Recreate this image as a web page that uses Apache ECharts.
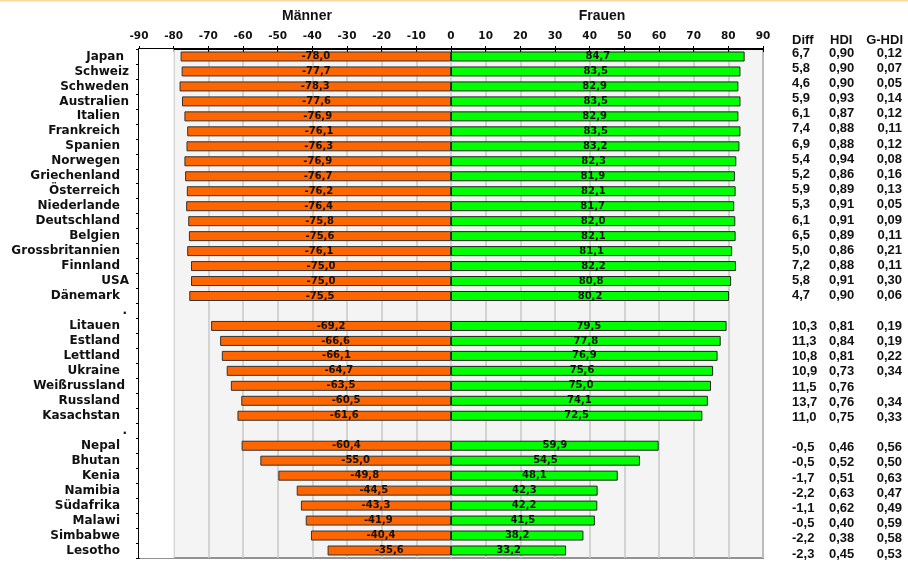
<!DOCTYPE html>
<html>
<head>
<meta charset="utf-8">
<script src="https://cdn.jsdelivr.net/npm/echarts@6/dist/echarts.min.js"></script>
<style>
  html, body { margin: 0; padding: 0; background: #fff; }
  #chart { width: 908px; height: 563px; }
</style>
</head>
<body>
<div id="chart"></div>
<script>
// Life expectancy (years) by sex, grouped by region; "." rows separate the groups
const countries = [
  'Japan', 'Schweiz', 'Schweden', 'Australien', 'Italien', 'Frankreich', 'Spanien',
  'Norwegen', 'Griechenland', 'Österreich', 'Niederlande', 'Deutschland', 'Belgien',
  'Grossbritannien', 'Finnland', 'USA', 'Dänemark',
  '.',
  'Litauen', 'Estland', 'Lettland', 'Ukraine', 'Weißrussland', 'Russland', 'Kasachstan',
  '.',
  'Nepal', 'Bhutan', 'Kenia', 'Namibia', 'Südafrika', 'Malawi', 'Simbabwe', 'Lesotho'
];

// Men are plotted to the left of zero
const lifeMen = [
  -78.0, -77.7, -78.3, -77.6, -76.9, -76.1, -76.3, -76.9, -76.7, -76.2, -76.4, -75.8, -75.6,
  -76.1, -75.0, -75.0, -75.5,
  null,
  -69.2, -66.6, -66.1, -64.7, -63.5, -60.5, -61.6,
  null,
  -60.4, -55.0, -49.8, -44.5, -43.3, -41.9, -40.4, -35.6
];

const lifeWomen = [
  84.7, 83.5, 82.9, 83.5, 82.9, 83.5, 83.2, 82.3, 81.9, 82.1, 81.7, 82.0, 82.1,
  81.1, 82.2, 80.8, 80.2,
  null,
  79.5, 77.8, 76.9, 75.6, 75.0, 74.1, 72.5,
  null,
  59.9, 54.5, 48.1, 42.3, 42.2, 41.5, 38.2, 33.2
];

// Side table: difference women - men, HDI and gender HDI
const diffValues = [
  6.7, 5.8, 4.6, 5.9, 6.1, 7.4, 6.9, 5.4, 5.2, 5.9, 5.3, 6.1, 6.5, 5.0, 7.2, 5.8, 4.7,
  null,
  10.3, 11.3, 10.8, 10.9, 11.5, 13.7, 11.0,
  null,
  -0.5, -0.5, -1.7, -2.2, -1.1, -0.5, -2.2, -2.3
];

const hdiValues = [
  0.90, 0.90, 0.90, 0.93, 0.87, 0.88, 0.88, 0.94, 0.86, 0.89, 0.91, 0.91, 0.89, 0.86, 0.88, 0.91, 0.90,
  null,
  0.81, 0.84, 0.81, 0.73, 0.76, 0.76, 0.75,
  null,
  0.46, 0.52, 0.51, 0.63, 0.62, 0.40, 0.38, 0.45
];

const gHdiValues = [
  0.12, 0.07, 0.05, 0.14, 0.12, 0.11, 0.12, 0.08, 0.16, 0.13, 0.05, 0.09, 0.11, 0.21, 0.11, 0.30, 0.06,
  null,
  0.19, 0.19, 0.22, 0.34, null, 0.34, 0.33,
  null,
  0.56, 0.50, 0.63, 0.47, 0.49, 0.59, 0.58, 0.53
];

const tableHeaders = ['Diff', 'HDI', 'G-HDI'];
const axisMin = -90;
const axisMax = 90;
const axisStep = 10;

// German number format with decimal comma
function fmt(v, digits) {
  if (v === null || v === undefined) return '';
  return v.toFixed(digits).replace('.', ',');
}

// Some category labels sit a little further right than the rest
const labelPad = { 'Japan': 5, 'Schweiz': 0, 'Schweden': 0, 'Australien': 0, 'USA': 0, 'Weißrussland': 4, '.': 2 };
const catFont = { fontFamily: 'DejaVu Sans', fontWeight: 'bold', fontSize: 12, color: '#111' };
const richPads = {};
[0, 2, 4, 5, 9].forEach(p => {
  richPads['p' + p] = Object.assign({ padding: [0, p, 0, 0] }, catFont);
});

const tableFont = { fontFamily: 'Liberation Sans, Arial', fontWeight: 'bold', fontSize: 13, color: '#111' };
const barLabelFont = { fontFamily: 'DejaVu Sans', fontWeight: 'bold', fontSize: 10, color: '#111' };

function tableAxis(values, digits, margin, align) {
  return {
    type: 'category', gridIndex: 1, position: 'right', inverse: true, data: countries,
    axisLine: { show: false, onZero: false }, axisTick: { show: false }, splitLine: { show: false },
    axisLabel: Object.assign({
      interval: 0, margin: margin, align: align,
      formatter: (v, i) => fmt(values[i], digits)
    }, tableFont)
  };
}

const chart = echarts.init(document.getElementById('chart'), null, { renderer: 'canvas' });

chart.setOption({
  backgroundColor: '#ffffff',
  animation: false,
  grid: [
    // plot frame: gray border on the right and bottom, black axis lines cover top and left
    { left: 139, right: 145, top: 49, bottom: 5, show: true, backgroundColor: '#f4f4f4', borderColor: '#929292', borderWidth: 2 },
    { left: 139, right: 145, top: 45.4, bottom: 1.4, show: false }
  ],
  xAxis: [
    {
      type: 'value', gridIndex: 0, position: 'top', min: axisMin, max: axisMax, interval: axisStep,
      axisLine: { show: true, onZero: false, lineStyle: { color: '#000', width: 2 } },
      axisTick: { show: true, length: 3, lineStyle: { color: '#000' } },
      axisLabel: { margin: 7, fontFamily: 'DejaVu Sans', fontWeight: 'bold', fontSize: 10.5, color: '#111' },
      splitLine: { show: true, lineStyle: { color: '#c8c8c8', width: 1.5 } }
    },
    {
      type: 'value', gridIndex: 0, position: 'top', min: axisMin, max: axisMax, interval: axisStep,
      axisLine: { show: false, onZero: false },
      axisTick: { show: true, inside: true, length: 3, lineStyle: { color: '#000' } },
      axisLabel: { show: false },
      splitLine: { show: false }
    },
    { type: 'value', gridIndex: 1, show: false, min: axisMin, max: axisMax }
  ],
  yAxis: [
    {
      type: 'category', gridIndex: 0, inverse: true, data: countries,
      axisLine: { show: true, onZero: false, lineStyle: { color: '#000', width: 2 } },
      axisTick: { show: true, length: 3, interval: 0, lineStyle: { color: '#000' } },
      axisLabel: Object.assign({
        interval: 0, margin: 10, rich: richPads,
        formatter: (v) => {
          const p = (v in labelPad) ? labelPad[v] : 9;
          return '{p' + p + '|' + v + '}';
        }
      }, catFont)
    },
    tableAxis(diffValues, 1, 29, 'left'),
    tableAxis(hdiValues, 2, 66, 'left'),
    tableAxis(gHdiValues, 2, 139, 'right')
  ],
  series: [
    {
      type: 'bar', name: 'Männer', xAxisIndex: 0, yAxisIndex: 0,
      data: lifeMen, barWidth: 10, barGap: '-100%',
      itemStyle: { color: '#ff6600', borderColor: '#333', borderWidth: 1 },
      label: Object.assign({ show: true, position: 'inside', formatter: p => fmt(p.value, 1) }, barLabelFont),
      markArea: {
        silent: true,
        itemStyle: { color: '#ffffff' },
        data: [[{ xAxis: axisMin }, { xAxis: -80 }]]
      }
    },
    {
      type: 'bar', name: 'Frauen', xAxisIndex: 0, yAxisIndex: 0,
      data: lifeWomen, barWidth: 10, barGap: '-100%',
      itemStyle: { color: '#00ff00', borderColor: '#222', borderWidth: 1 },
      label: Object.assign({ show: true, position: 'inside', formatter: p => fmt(p.value, 1) }, barLabelFont)
    }
  ],
  graphic: [
    { type: 'rect', left: 0, top: 0, shape: { width: 908, height: 1.5 }, style: { fill: '#fdd9a1' }, silent: true },
    { type: 'text', x: 307, y: 16, style: { text: 'Männer', textAlign: 'center', textVerticalAlign: 'middle', font: 'bold 14px "Liberation Sans", Arial', fill: '#111' } },
    { type: 'text', x: 602, y: 16, style: { text: 'Frauen', textAlign: 'center', textVerticalAlign: 'middle', font: 'bold 14px "Liberation Sans", Arial', fill: '#111' } },
    { type: 'text', x: 792, y: 40, style: { text: tableHeaders[0], textAlign: 'left', textVerticalAlign: 'middle', font: 'bold 13px "Liberation Sans", Arial', fill: '#111' } },
    { type: 'text', x: 830, y: 40, style: { text: tableHeaders[1], textAlign: 'left', textVerticalAlign: 'middle', font: 'bold 13px "Liberation Sans", Arial', fill: '#111' } },
    { type: 'text', x: 903, y: 40, style: { text: tableHeaders[2], textAlign: 'right', textVerticalAlign: 'middle', font: 'bold 13px "Liberation Sans", Arial', fill: '#111' } }
  ]
});
</script>
</body>
</html>
